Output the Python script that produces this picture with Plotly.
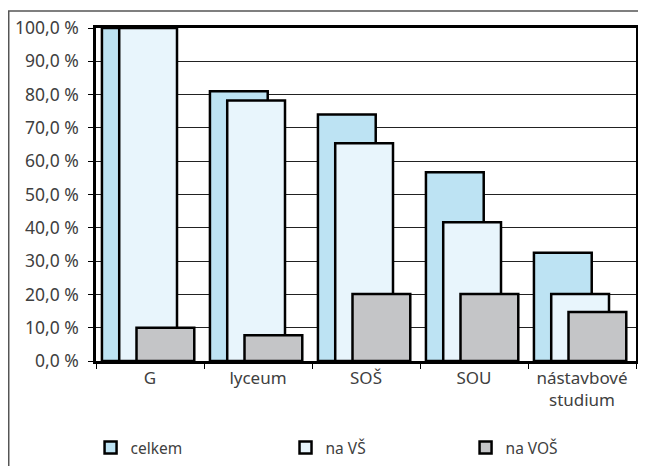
import plotly.graph_objects as go

categories = ["G", "lyceum", "SOŠ", "SOU", "nástavbové<br>studium"]
celkem = [100.0, 81.0, 74.0, 56.7, 32.5]
na_vs = [100.0, 78.2, 65.4, 41.7, 20.1]
na_vos = [10.0, 7.7, 20.1, 20.1, 14.7]
series_names = ["celkem", "na VŠ", "na VOŠ"]
tick_vals = [0, 10, 20, 30, 40, 50, 60, 70, 80, 90, 100]
tick_text = ["0,0 %", "10,0 %", "20,0 %", "30,0 %", "40,0 %", "50,0 %",
             "60,0 %", "70,0 %", "80,0 %", "90,0 %", "100,0 %"]

colors = ["#BDE3F3", "#E8F5FC", "#C4C5C7"]
offsets = [-0.445, -0.285, -0.125]
legend_ids = ["legend", "legend2", "legend3"]
legend_x = [0.1278, 0.4296, 0.7083]
W = 0.535
FONT = "Noto Sans"
TXT = "#404040"

fig = go.Figure()
for name, vals, col, off, lid in zip(series_names, [celkem, na_vs, na_vos], colors, offsets, legend_ids):
    fig.add_trace(go.Bar(
        x=categories, y=vals, name=name, legend=lid,
        width=W, offset=off,
        marker=dict(color=col, line=dict(color="#000000", width=2.5)),
    ))

legend_style = dict(orientation="h", xref="container", yref="container",
                    xanchor="left", y=0.0558, yanchor="middle",
                    font=dict(size=15.5, color=TXT), bgcolor="rgba(0,0,0,0)")
legends = {lid: dict(legend_style, x=lx) for lid, lx in zip(legend_ids, legend_x)}

fig.update_layout(
    width=646, height=466,
    barmode="overlay",
    margin=dict(l=88, r=18, t=20, b=113, autoexpand=False),
    paper_bgcolor="white", plot_bgcolor="white",
    font=dict(family=FONT, size=16, color=TXT),
    showlegend=True,
    xaxis=dict(type="category", showgrid=False, showline=True, linecolor="#000",
               linewidth=2.5, mirror=True, ticks="outside", tickson="boundaries",
               ticklen=5, tickcolor="#000", tickwidth=1,
               tickfont=dict(size=17, color=TXT), range=[-0.5, 4.5]),
    yaxis=dict(range=[0, 100], tickvals=tick_vals, ticktext=tick_text,
               showgrid=True, gridcolor="#222", gridwidth=1,
               showline=True, linecolor="#000", linewidth=2.5, mirror=True,
               ticks="outside", ticklen=5, tickcolor="#000", tickwidth=1,
               ticklabelstandoff=6,
               tickfont=dict(size=17.5, color=TXT), zeroline=False),
    shapes=[dict(type="rect", xref="paper", yref="paper",
                 x0=-0.1616, x1=1.2, y0=-0.5, y1=1.051,
                 line=dict(color="#555", width=1.5), layer="below")],
    **legends,
)

fig.write_html("out.html")
